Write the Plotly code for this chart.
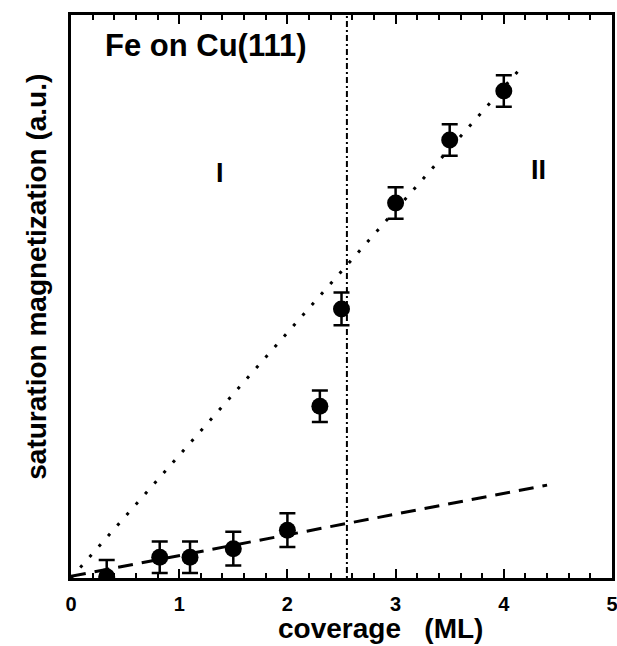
import plotly.graph_objects as go

coverage = [0.33, 0.82, 1.1, 1.5, 2.0, 2.3, 2.5, 3.0, 3.5, 4.0]
magnetization = [0.02, 0.37, 0.37, 0.52, 0.85, 3.05, 4.78, 6.66, 7.78, 8.65]
mag_err = [0.3, 0.28, 0.28, 0.3, 0.3, 0.28, 0.29, 0.28, 0.28, 0.28]

fit1_x = [0.0, 4.14]
fit1_y = [0.0, 9.02]
fit2_x = [0.0, 4.4]
fit2_y = [0.03, 1.65]
boundary_x = 2.55

xtick_vals = [0, 1, 2, 3, 4, 5]

FONT = "Liberation Sans, Arial, sans-serif"
NB = "\u00a0"

fig = go.Figure()
fig.add_trace(go.Scatter(x=fit1_x, y=fit1_y, mode="lines",
                         line=dict(color="black", width=3, dash="3px,11px"),
                         showlegend=False, hoverinfo="skip"))
fig.add_trace(go.Scatter(x=fit2_x, y=fit2_y, mode="lines",
                         line=dict(color="black", width=3, dash="15px,9px"),
                         showlegend=False, hoverinfo="skip"))
fig.add_trace(go.Scatter(x=[boundary_x, boundary_x], y=[0, 10], mode="lines",
                         line=dict(color="black", width=2, dash="2px,3px,6px,3px"),
                         showlegend=False, hoverinfo="skip"))
fig.add_trace(go.Scatter(x=coverage, y=magnetization, mode="markers",
                         marker=dict(color="black", size=17),
                         error_y=dict(type="data", array=mag_err, color="black",
                                      thickness=2.5, width=8),
                         showlegend=False))

fig.add_annotation(x=0.30, y=9.45, text="<b>Fe on Cu(111)</b>", showarrow=False,
                   xanchor="left", font=dict(family=FONT, size=31, color="black"))
fig.add_annotation(x=1.38, y=7.2, text="<b>I</b>", showarrow=False,
                   font=dict(family=FONT, size=27, color="black"))
fig.add_annotation(x=4.32, y=7.25, text="<b>II</b>", showarrow=False,
                   font=dict(family=FONT, size=27, color="black"))

# axis titles placed as annotations for exact positioning
fig.add_annotation(xref="paper", yref="paper", x=0.573, y=-0.09, yanchor="middle",
                   text=f"<b>coverage{NB}{NB}{NB}(ML)</b>", showarrow=False,
                   font=dict(family=FONT, size=28, color="black"))
fig.add_annotation(xref="paper", yref="paper", x=-0.063, y=0.535, xanchor="center",
                   yanchor="middle", textangle=-90,
                   text="<b>saturation magnetization (a.u.)</b>", showarrow=False,
                   font=dict(family=FONT, size=28, color="black"))

fig.update_layout(
    width=617, height=646,
    margin=dict(l=71, r=5, t=15, b=68),
    paper_bgcolor="white", plot_bgcolor="white",
    font=dict(family=FONT, color="black"),
)
fig.update_xaxes(range=[0, 5], tickvals=xtick_vals, automargin=False,
                 ticktext=[f"<b>{v}</b>" for v in xtick_vals],
                 tickfont=dict(size=20, family=FONT), ticklabelstandoff=6,
                 ticklabeloverflow="allow",
                 ticks="inside", ticklen=9, tickwidth=2, tickcolor="black",
                 minor=dict(dtick=0.2, ticks="inside", ticklen=5, tickwidth=2, tickcolor="black"),
                 showline=True, linewidth=3, linecolor="black", mirror="ticks",
                 showgrid=False, zeroline=False)
fig.update_yaxes(range=[0, 10], showticklabels=False, ticks="", automargin=False,
                 showline=True, linewidth=3, linecolor="black", mirror=True,
                 showgrid=False, zeroline=False)

fig.write_html("out.html", config={"displayModeBar": False},
               post_script="document.body.style.margin='0px';")
